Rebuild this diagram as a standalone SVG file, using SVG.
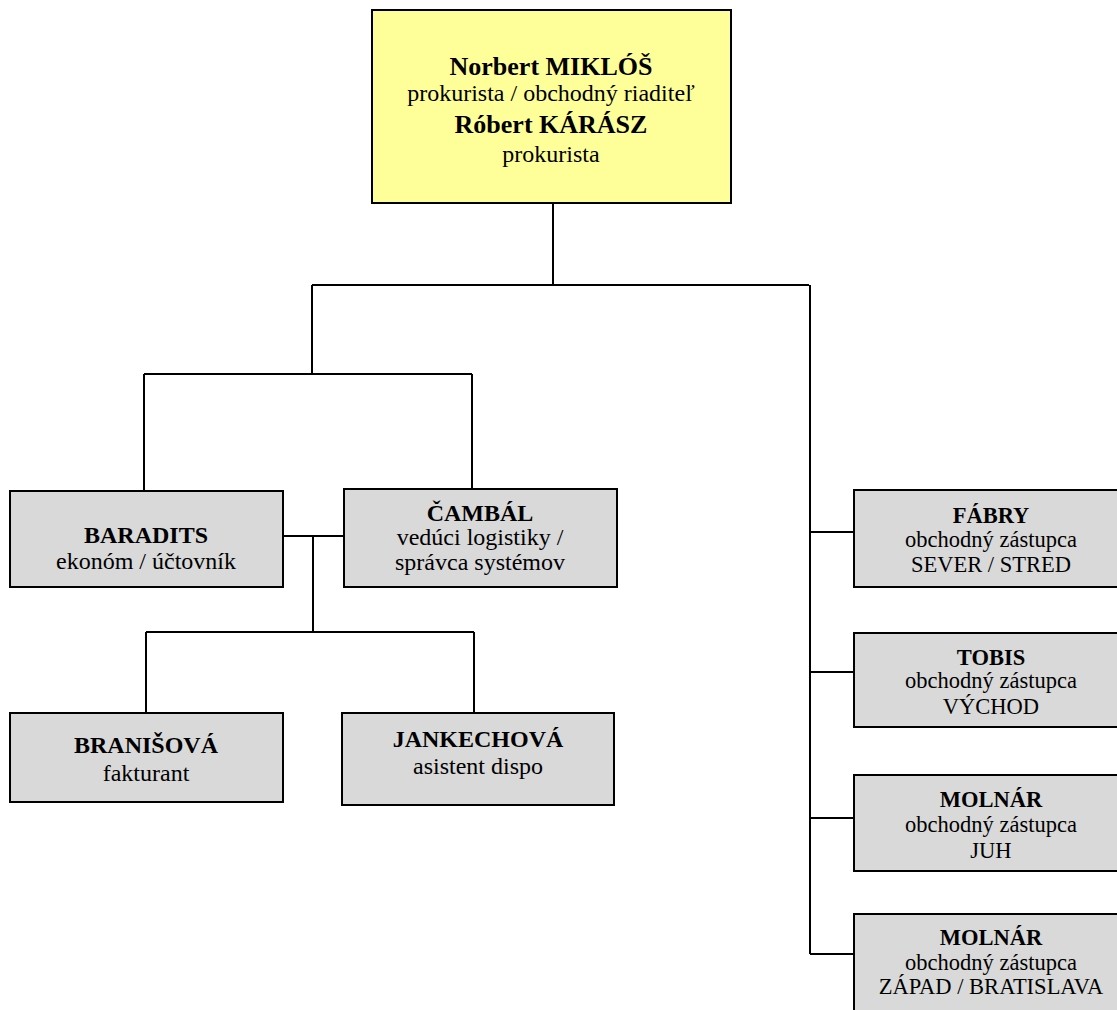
<svg xmlns="http://www.w3.org/2000/svg" width="1117" height="1010" viewBox="0 0 1117 1010">
<style>
.box{fill:#D9D9D9;stroke:#000;stroke-width:2}
.top{fill:#FFFF99;stroke:#000;stroke-width:2}
.ln{fill:none;stroke:#000;stroke-width:2}
text{font-family:"Liberation Serif","Times New Roman",serif;fill:#000;text-anchor:middle}
.b{font-weight:bold;font-size:24px}
.r{font-size:24px}
.tb{font-weight:bold;font-size:26px}
.tr{font-size:24px}
.rb{font-weight:bold;font-size:22.5px}
.rr{font-size:22.5px}
</style>
<rect width="1117" height="1010" fill="#fff"/>
<g id="connectors">
<path class="ln" d="M553 204V285M312 285H809M312 285V374M144 374H472M144 374V491M472 374V489"/>
<path class="ln" d="M283 536H344M313 536V632M146 632H474M146 632V713M474 632V713"/>
<path class="ln" d="M810 285V954M810 532H854M810 672H854M810 818H854M810 954H854"/>
</g>
<g id="n-miklos">
<rect class="top" x="372" y="10" width="359" height="193"/>
<text class="tb" x="551" y="75">Norbert MIKLÓŠ</text>
<text class="tr" x="551" y="101">prokurista / obchodný riaditeľ</text>
<text class="tb" x="551" y="133">Róbert KÁRÁSZ</text>
<text class="tr" x="551" y="162">prokurista</text>
</g>
<g id="n-baradits">
<rect class="box" x="10" y="491" width="273" height="96"/>
<text class="b" x="146" y="543">BARADITS</text>
<text class="r" x="146" y="569">ekonóm / účtovník</text>
</g>
<g id="n-cambal">
<rect class="box" x="344" y="489" width="273" height="98"/>
<text class="b" x="480" y="521">ČAMBÁL</text>
<text class="r" x="480" y="545">vedúci logistiky /</text>
<text class="r" x="480" y="570">správca systémov</text>
</g>
<g id="n-branisova">
<rect class="box" x="10" y="713" width="273" height="89"/>
<text class="b" x="146" y="753">BRANIŠOVÁ</text>
<text class="r" x="146" y="781">fakturant</text>
</g>
<g id="n-jankechova">
<rect class="box" x="342" y="713" width="272" height="92"/>
<text class="b" x="478" y="747">JANKECHOVÁ</text>
<text class="r" x="478" y="774">asistent dispo</text>
</g>
<g id="n-fabry">
<rect class="box" x="854" y="490" width="280" height="97"/>
<text class="rb" x="991" y="523">FÁBRY</text>
<text class="rr" x="991" y="547">obchodný zástupca</text>
<text class="rr" x="991" y="572">SEVER / STRED</text>
</g>
<g id="n-tobis">
<rect class="box" x="854" y="633" width="280" height="94"/>
<text class="rb" x="991" y="665">TOBIS</text>
<text class="rr" x="991" y="688">obchodný zástupca</text>
<text class="rr" x="991" y="714">VÝCHOD</text>
</g>
<g id="n-molnar1">
<rect class="box" x="854" y="775" width="280" height="96"/>
<text class="rb" x="991" y="807">MOLNÁR</text>
<text class="rr" x="991" y="832">obchodný zástupca</text>
<text class="rr" x="991" y="858">JUH</text>
</g>
<g id="n-molnar2">
<rect class="box" x="854" y="914" width="280" height="110"/>
<text class="rb" x="991" y="945">MOLNÁR</text>
<text class="rr" x="991" y="970">obchodný zástupca</text>
<text class="rr" x="991" y="994">ZÁPAD / BRATISLAVA</text>
</g>
</svg>
